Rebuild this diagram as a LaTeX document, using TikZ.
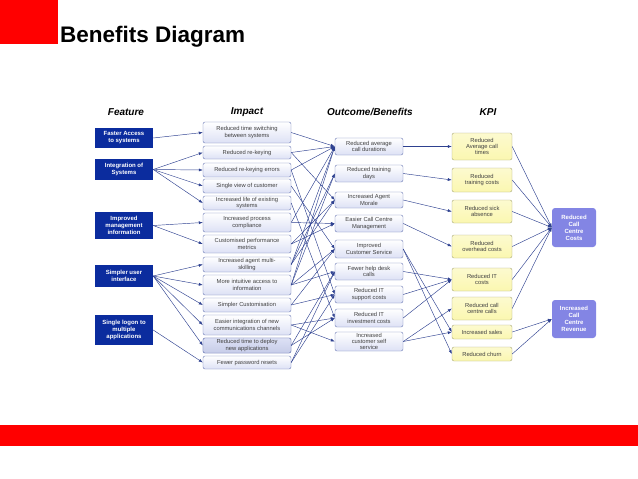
\documentclass[tikz,border=0pt]{standalone}
\usepackage{fontspec}
\setmainfont{Liberation Sans}
\usetikzlibrary{arrows.meta}

\definecolor{slidered}{HTML}{FF0000}
\definecolor{featblue}{HTML}{0B2C9E}
\definecolor{linkblue}{HTML}{2E4190}
\definecolor{boxedge}{HTML}{6A78B4}
\definecolor{boxfill}{HTML}{DDE1F5}
\definecolor{kpiedge}{HTML}{A8A878}
\definecolor{kpifill}{HTML}{FBF7B0}
\definecolor{resfill}{HTML}{8385E4}
\definecolor{boxtext}{HTML}{404040}

\tikzset{
    header/.style={font=\fontsize{10}{12}\selectfont\bfseries\itshape},
    feature/.style={fill=featblue, text=white, align=center,
        font=\fontsize{6}{7}\selectfont\bfseries, minimum width=58pt, inner sep=1pt},
    impact/.style={draw=boxedge, rounded corners=2pt, top color=white, bottom color=boxfill,
        text=boxtext, align=center, font=\fontsize{5.8}{6.2}\selectfont,
        minimum width=88pt, inner sep=1pt},
    outcome/.style={impact, minimum width=68pt},
    kpi/.style={draw=kpiedge, rounded corners=2pt, top color=kpifill!60!white, bottom color=kpifill,
        text=boxtext, align=center, font=\fontsize{5.8}{6.2}\selectfont,
        minimum width=60pt, inner sep=1pt},
    result/.style={fill=resfill, rounded corners=3pt, text=white, align=center,
        font=\fontsize{6}{7}\selectfont\bfseries, minimum width=44pt, inner sep=1pt},
    link/.style={->, draw=linkblue, line width=0.45pt}
}

\begin{document}
\begin{tikzpicture}[x=1pt,y=-1pt,>={Latex[length=4pt,width=3pt]}]
        \useasboundingbox (0,0) rectangle (638,479);

        % draw the slide frame
        \fill[slidered] (0,0) rectangle (58,44);
        \node[anchor=base west, font=\fontsize{22.5}{26}\selectfont\bfseries, inner sep=0pt] (title) at (60,42) {Benefits Diagram};
        \fill[slidered] (0,425) rectangle (638,446);

        % draw the column headers
        \node[header] (hfeat) at (126,112) {Feature};
        \node[header] (himp) at (247,112) {Impact};
        \node[header] (hout) at (370,112) {Outcome/Benefits};
        \node[header] (hkpi) at (488,112) {KPI};

        % draw the features
        \foreach \n/\y/\h/\txt in {
            1/138/20/{Faster Access\\to systems},
            2/169.5/21/{Integration of\\Systems},
            3/225.5/27/{Improved\\management\\information},
            4/276/22/{Simpler user\\interface},
            5/330/30/{Single logon to\\multiple\\applications}}
                \node[feature, minimum height=\h pt] (f\n) at (124,\y) {\txt};

        % draw the impacts
        \foreach \n/\y/\h/\txt in {
            1/132.5/21/{Reduced time switching\\between systems},
            2/152.5/13/{Reduced re-keying},
            3/170/14/{Reduced re-keying errors},
            4/186/14/{Single view of customer},
            5/203/14/{Increased life of existing\\systems},
            6/222.5/19/{Increased process\\compliance},
            7/244/18/{Customised performance\\metrics},
            8/264.5/15/{Increased agent multi-\\skilling},
            9/285/20/{More intuitive access to\\information},
            10/305/14/{Simpler Customisation},
            11/325/20/{Easier integration of new\\communications channels},
            12/345.5/15/{Reduced time to deploy\\new applications},
            13/362.5/13/{Fewer password resets}}
                \node[impact, minimum height=\h pt] (i\n) at (247,\y) {\txt};
        \node[impact, minimum height=15pt, top color=boxfill, bottom color=boxfill!80!boxedge] at (i12) {Reduced time to deploy\\new applications};

        % draw the outcomes
        \foreach \n/\y/\h/\txt in {
            1/146.5/17/{Reduced average\\call durations},
            2/173.5/17/{Reduced training\\days},
            3/200/16/{Increased Agent\\Morale},
            4/223.5/17/{Easier Call Centre\\Management},
            5/249/18/{Improved\\Customer Service},
            6/271.5/17/{Fewer help desk\\calls},
            7/294.5/17/{Reduced IT\\support costs},
            8/318/18/{Reduced IT\\investment costs},
            9/341.5/19/{Increased\\customer self\\service}}
                \node[outcome, minimum height=\h pt] (o\n) at (369,\y) {\txt};

        % draw the kpis
        \foreach \n/\y/\h/\txt in {
            1/146.5/27/{Reduced\\Average call\\times},
            2/180/24/{Reduced\\training costs},
            3/211.5/23/{Reduced sick\\absence},
            4/246.5/23/{Reduced\\overhead costs},
            5/279.5/23/{Reduced IT\\costs},
            6/308.5/23/{Reduced call\\centre calls},
            7/332/14/{Increased sales},
            8/354/14/{Reduced churn}}
                \node[kpi, minimum height=\h pt] (k\n) at (482,\y) {\txt};

        % draw the results
        \node[result, minimum height=39pt] (r1) at (574,227.5) {Reduced\\Call\\Centre\\Costs};
        \node[result, minimum height=38pt] (r2) at (574,319) {Increased\\Call\\Centre\\Revenue};

        % feature to impact
        \foreach \a/\b in {f1/i1, f2/i2, f2/i3, f2/i4, f2/i5, f3/i6, f3/i7,
            f4/i8, f4/i9, f4/i10, f4/i11, f4/i12, f5/i13}
                \draw[link] (\a.east) -- (\b.west);

        % impact to outcome
        \foreach \a/\b in {i1/o1, i2/o1, i2/o3, i3/o1, i3/o7, i4/o5, i5/o8,
            i6/o4, i6/o1, i7/o4, i7/o3, i8/o2, i8/o3, i8/o1, i9/o1, i9/o2,
            i9/o5, i9/o6, i10/o5, i10/o7, i11/o8, i11/o9, i12/o8, i12/o6,
            i13/o6, i13/o7}
                \draw[link] (\a.east) -- (\b.west);

        % outcome to kpi
        \foreach \a/\b in {o1/k1, o2/k2, o3/k3, o4/k4, o5/k7, o5/k8,
            o6/k5, o7/k5, o8/k5, o9/k6, o9/k7}
                \draw[link] (\a.east) -- (\b.west);

        % kpi to result
        \foreach \a/\b in {k1/r1, k2/r1, k3/r1, k4/r1, k5/r1, k6/r1, k7/r2, k8/r2}
                \draw[link] (\a.east) -- (\b.west);
\end{tikzpicture}
\end{document}
